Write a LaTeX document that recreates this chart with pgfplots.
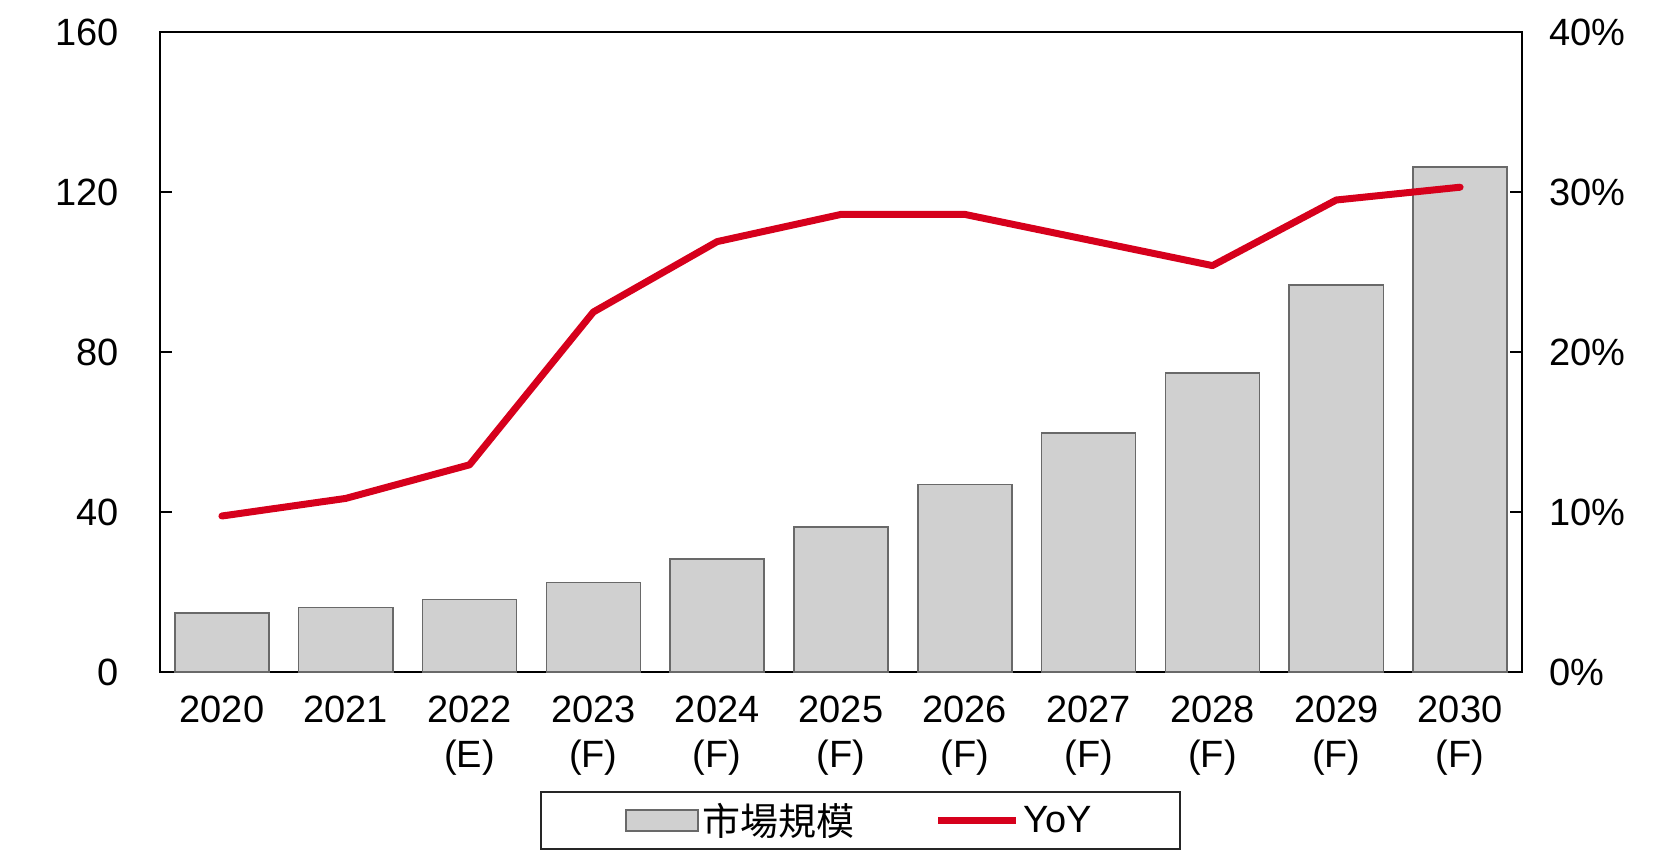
\documentclass[border=0pt]{standalone}
\usepackage{fontspec}
\setmainfont{Liberation Sans}
\newfontfamily\cjk{Noto Sans CJK TC}
\usepackage{pgfplots}
\pgfplotsset{compat=1.18}
\definecolor{barfill}{RGB}{208,208,208}
\definecolor{baredge}{RGB}{105,105,105}
\definecolor{yoyred}{RGB}{214,0,28}
\pgfplotsset{
  barlegend/.style={legend image code/.code={\draw[##1] (0pt,-5.25pt) rectangle (36pt,5.25pt);}},
  linelegend/.style={legend image code/.code={\draw[##1, line cap=butt] (0pt,0pt) -- (39pt,0pt);}},
}
\begin{document}
\begin{tikzpicture}
\useasboundingbox (-80pt,-90.5pt) rectangle (757.5pt,336pt);
\begin{axis}[
  at={(0pt,0pt)}, anchor=south west,
  scale only axis, width=681pt, height=320pt,
  xmin=-0.5, xmax=10.5, ymin=0, ymax=160,
  ytick={0,40,80,120,160},
  xtick={0,1,2,3,4,5,6,7,8,9,10},
  xticklabels={2020,2021,{2022\\(E)},{2023\\(F)},{2024\\(F)},{2025\\(F)},{2026\\(F)},{2027\\(F)},{2028\\(F)},{2029\\(F)},{2030\\(F)}},
  axis line style={black, line width=1.1pt},
  ytick pos=left,
  tick align=inside,
  major tick length=6pt,
  tick style={black, line width=1pt},
  x tick style={draw=none},
  /pgf/number format/assume math mode=true,
  tick label style={font=\fontsize{19}{22.5}\selectfont},
  xticklabel style={align=center, yshift=-8.5pt},
  yticklabel style={xshift=-17pt},
]
\addplot[ybar, bar width=0.76, fill=barfill, draw=baredge, line width=0.8pt]
  coordinates {(0,14.8) (1,16.1) (2,18.1) (3,22.4) (4,28.3) (5,36.3) (6,46.9) (7,59.7) (8,74.7) (9,96.8) (10,126.2)};
\end{axis}
\begin{axis}[
  at={(0pt,0pt)}, anchor=south west,
  scale only axis, width=681pt, height=320pt,
  xmin=-0.5, xmax=10.5, ymin=0, ymax=40,
  axis x line=none,
  axis y line*=right,
  axis line style={-, black, line width=1.1pt},
  ytick={0,10,20,30,40},
  yticklabels={0\%,10\%,20\%,30\%,40\%},
  tick align=inside,
  major tick length=6pt,
  tick style={black, line width=1pt},
  tick label style={font=\fontsize{19}{22.5}\selectfont},
  yticklabel style={xshift=10pt},
  legend style={at={(0.279,-0.186)}, anchor=north west, draw=black!85, line width=0.9pt,
    font=\fontsize{19}{22.5}\selectfont, inner xsep=42pt, inner ysep=3.5pt,
    /tikz/every even column/.append style={column sep=38pt}},
  legend columns=2,
  legend cell align=left,
]
\addlegendimage{fill=barfill, draw=baredge, line width=0.8pt, barlegend}
\addlegendentry{\cjk 市場規模}
\addplot[yoyred, line width=3.5pt, line join=round, line cap=round, linelegend]
  coordinates {(0,9.75) (1,10.85) (2,12.95) (3,22.5) (4,26.9) (5,28.6) (6,28.6) (7,27.0) (8,25.4) (9,29.5) (10,30.3)};
\addlegendentry{YoY}
\end{axis}
\end{tikzpicture}
\end{document}
